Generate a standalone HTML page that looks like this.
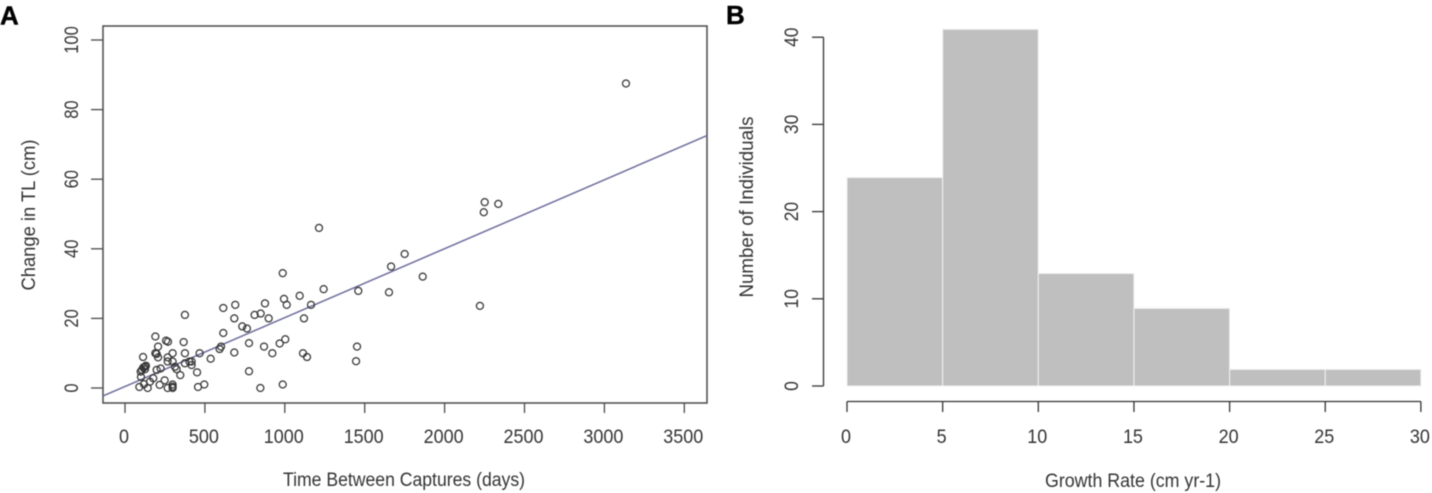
<!DOCTYPE html>
<html lang="en">
<head>
<meta charset="utf-8">
<title>Change in TL and growth rate</title>
<style>
html,body{margin:0;padding:0;background:#fff;width:1432px;height:493px;overflow:hidden}
svg{display:block;filter:blur(0.45px)}
text{font-family:"Liberation Sans",Arial,sans-serif;fill:#333}
</style>
</head>
<body>
<svg id="figure" width="1432" height="493" viewBox="0 0 1432 493" xmlns="http://www.w3.org/2000/svg">
  <text x="0" y="24.5" style="font-size:26px;font-weight:bold;fill:#000;stroke:#000;stroke-width:0.4">A</text>
  <text x="726" y="24" style="font-size:26px;font-weight:bold;fill:#000;stroke:#000;stroke-width:0.4">B</text>
  <g id="panelA"></g>
  <g id="panelB"></g>
  <text x="404" y="486" text-anchor="middle" textLength="242" lengthAdjust="spacingAndGlyphs" style="font-size:19px">Time Between Captures (days)</text>
  <text transform="translate(35,215) rotate(-90)" text-anchor="middle" textLength="151" lengthAdjust="spacingAndGlyphs" style="font-size:19px">Change in TL (cm)</text>
  <text x="1133" y="487" text-anchor="middle" textLength="176" lengthAdjust="spacingAndGlyphs" style="font-size:19px">Growth Rate (cm yr-1)</text>
  <text transform="translate(753,207) rotate(-90)" text-anchor="middle" textLength="181" lengthAdjust="spacingAndGlyphs" style="font-size:19px">Number of Individuals</text>
</svg>
<script>
// Scatter data: time between captures (days) and change in total length (cm)
const captureDays = [3135,2251,2245,2336,2221,1863,1750,1665,1652,1214,
  987,615,690,375,684,811,849,899,876,995,1012,1093,1243,1164,1120,1460,
  734,763,615,190,257,269,367,207,601,592,776,870,968,1003,922,684,1114,1139,
  1452,1446,776,847,987,496,457,536,467,451,346,298,375,190,207,198,267,267,
  298,113,131,115,98,223,198,313,323,375,403,417,417,100,177,156,119,248,217,
  298,267,298,142,90,125,106,298,125];
const lengthChange = [87.5,53.4,50.5,52.9,23.6,32,38.5,34.9,27.5,46,
  33,23,23.9,21,20,21,21.4,20,24.3,25.6,23.9,26.5,28.4,23.9,20,27.9,
  17.7,17.1,15.8,14.8,13.6,13.3,13.2,11.9,11.9,11.2,12.9,11.9,12.8,14,10,10.2,10,8.9,
  11.9,7.7,4.8,0,1,1,0.3,8.4,10,4.5,3.7,10,10,10,8.8,9.8,8.8,7.6,
  7.6,8.9,6.4,5.9,4.7,5.6,5.2,6.1,5.4,7.1,7.6,7.6,6.6,3.2,2.8,1.8,1.1,2.2,0.9,
  1,0,0,0,0.3,6.1,5.2,0.4,5.4];
const trendIntercept = 0.43;
const trendSlope = 0.0198;
const scatterXTicks = [0,500,1000,1500,2000,2500,3000,3500];
const scatterYTicks = [0,20,40,60,80,100];

// Histogram data
const binEdges = [0,5,10,15,20,25,30];
const binCounts = [24,41,13,9,2,2];
const histYTicks = [0,10,20,30,40];
const histXTicks = [0,5,10,15,20,25,30];

const NS = 'http://www.w3.org/2000/svg';
function make(parent, tag, attrs, text) {
  const el = document.createElementNS(NS, tag);
  for (const k in attrs) el.setAttribute(k, attrs[k]);
  if (text !== undefined) el.textContent = text;
  parent.appendChild(el);
  return el;
}
function tickLabelAttrs(str, base, digitWidth) {
  return Object.assign({'text-anchor':'middle', style:'font-size:19.5px', textLength:str.length * digitWidth, lengthAdjust:'spacingAndGlyphs'}, base);
}

// Panel A axis functions
const ax = v => 125 + v * 0.1598;
const ay = v => 388 - v * 3.48;
const axMin = -137.7, axMax = 3642;
const panelA = document.getElementById('panelA');
const axisColor = '#4a4a4a';

const plotBox = make(panelA, 'rect', {x:103, y:26, width:604, height:377, fill:'none', stroke:axisColor, 'stroke-width':1.5});



scatterXTicks.forEach(t => {
  const tick = make(panelA, 'line', {x1:ax(t), x2:ax(t), y1:403, y2:413, stroke:axisColor, 'stroke-width':1.3});
  
  
  const s = String(t);
  const label = make(panelA, 'text', tickLabelAttrs(s, {x:ax(t) - 1, y:443}, 10), s);
  
  
});
scatterYTicks.forEach(t => {
  const tick = make(panelA, 'line', {x1:91, x2:103, y1:ay(t), y2:ay(t), stroke:axisColor, 'stroke-width':1.3});
  
  
  const s = String(t);
  const label = make(panelA, 'text', tickLabelAttrs(s, {transform:'translate(78,' + ay(t) + ') rotate(-90)'}, 9.2), s);
  
  
});

const trend = make(panelA, 'line', {
  x1:ax(axMin), y1:ay(trendIntercept + trendSlope * axMin),
  x2:ax(axMax), y2:ay(trendIntercept + trendSlope * axMax),
  stroke:'#6c6c9c', 'stroke-width':1.5
});



captureDays.forEach((d, i) => {
  const pt = make(panelA, 'circle', {cx:ax(d), cy:ay(lengthChange[i]), r:3.5, fill:'none', stroke:'#333', 'stroke-width':1.25});
  
  
});

// Panel B axis functions
const bx = v => 847 + v * 19.13;
const by = v => 386 - v * 8.72;
const panelB = document.getElementById('panelB');

binCounts.forEach((c, i) => {
  const bar = make(panelB, 'rect', {
    x:bx(binEdges[i]), y:by(c) + 0.8,
    width:bx(binEdges[i + 1]) - bx(binEdges[i]), height:by(0) - by(c) - 0.8,
    fill:'#bfbfbf', stroke:'#f2f2f2', 'stroke-width':1
  });
  
  
});

const histYAxis = make(panelB, 'line', {x1:823.5, x2:823.5, y1:by(histYTicks[0]), y2:by(histYTicks[histYTicks.length - 1]), stroke:'#333', 'stroke-width':1.3});


histYTicks.forEach(t => {
  const tick = make(panelB, 'line', {x1:812, x2:823.5, y1:by(t), y2:by(t), stroke:'#333', 'stroke-width':1.3});
  
  
  const s = String(t);
  const label = make(panelB, 'text', tickLabelAttrs(s, {transform:'translate(798,' + by(t) + ') rotate(-90)'}, 9.7), s);
  
  
});

const histXAxis = make(panelB, 'line', {x1:bx(histXTicks[0]), x2:bx(histXTicks[histXTicks.length - 1]), y1:401.5, y2:401.5, stroke:'#333', 'stroke-width':1.3});


histXTicks.forEach(t => {
  const tick = make(panelB, 'line', {x1:bx(t), x2:bx(t), y1:401.5, y2:412, stroke:'#333', 'stroke-width':1.3});
  
  
  const s = String(t);
  const label = make(panelB, 'text', tickLabelAttrs(s, {x:bx(t) - 1, y:443}, 10), s);
  
  
});
</script>
</body>
</html>
